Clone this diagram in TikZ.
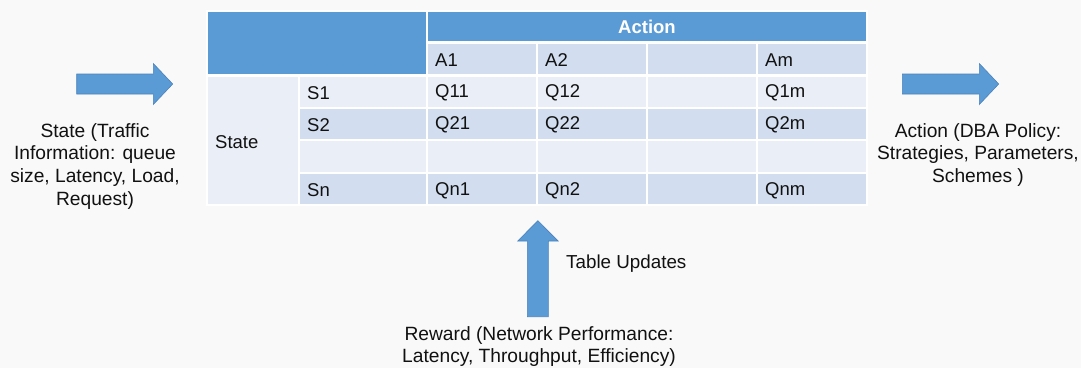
\documentclass[tikz,border=0pt]{standalone}
\usepackage{fontspec}
\setmainfont{Liberation Sans}
\usetikzlibrary{positioning}
\definecolor{hdr}{HTML}{5B9BD5}
\definecolor{bandD}{HTML}{D2DEEF}
\definecolor{bandL}{HTML}{EAEFF7}
\definecolor{arrowline}{HTML}{4A82BC}
\definecolor{pagebg}{HTML}{F9F9F9}
\definecolor{txt}{HTML}{111111}
\tikzset{
  cellbox/.style={draw=white, line width=2.5pt},
  hdrcell/.style={cellbox, fill=hdr},
  darkcell/.style={cellbox, fill=bandD},
  lightcell/.style={cellbox, fill=bandL},
  celltext/.style={anchor=west, inner sep=0pt, text=txt, font=\fontsize{18.5}{22}\selectfont},
  labeltext/.style={align=center, inner sep=0pt, text=txt, font=\fontsize{19.2}{22.7}\selectfont},
  blockarrow/.style={fill=hdr, draw=arrowline, line width=0.6pt, line join=miter}
}
\begin{document}
\begin{tikzpicture}[x=1pt, y=-1pt]
\fill[pagebg] (0,0) rectangle (1081,368);
\useasboundingbox (0,0) rectangle (1081,368);

% header
\draw[hdrcell] (207,11) rectangle (427,75.5);
\draw[hdrcell] (427,11) rectangle (867,42.5);
\node[inner sep=0pt, text=white, font=\fontsize{18.5}{22}\selectfont\bfseries] (action) at (647,27) {Action};

% A row
\foreach \xa/\xb in {427/537, 537/647, 647/757, 757/867}
  \draw[darkcell] (\xa,42.5) rectangle (\xb,75.5);

% state cell
\draw[lightcell] (207,75.5) rectangle (299,205);

% body rows
\foreach \ya/\yb/\st in {75.5/108/lightcell, 108/140/darkcell, 140/173/lightcell, 173/205/darkcell}
  \foreach \xa/\xb in {299/427, 427/537, 537/647, 647/757, 757/867}
    \draw[\st] (\xa,\ya) rectangle (\xb,\yb);

% texts
\node[celltext] (a1) at (435,60) {A1};
\node[celltext] (a2) at (545,60) {A2};
\node[celltext] (am) at (765,60) {Am};
\node[celltext] (state) at (215,142.5) {State};
\node[celltext] (s1) at (307,93) {S1};
\node[celltext] (s2) at (307,125) {S2};
\node[celltext] (sn) at (307,190.5) {Sn};
\node[celltext] (q11) at (435,93) {Q11};
\node[celltext] (q12) at (545,93) {Q12};
\node[celltext] (q1m) at (765,93) {Q1m};
\node[celltext] (q21) at (435,125) {Q21};
\node[celltext] (q22) at (545,125) {Q22};
\node[celltext] (q2m) at (765,125) {Q2m};
\node[celltext] (qn1) at (435,190.5) {Qn1};
\node[celltext] (qn2) at (545,190.5) {Qn2};
\node[celltext] (qnm) at (765,190.5) {Qnm};

% arrows
\draw[blockarrow] (76.7,74) -- (153.3,74) -- (153.3,63.5) -- (172.7,84) -- (153.3,104.5) -- (153.3,94) -- (76.7,94) -- cycle;
\draw[blockarrow] (902.3,74) -- (979.3,74) -- (979.3,63.5) -- (998.7,84) -- (979.3,104.5) -- (979.3,94) -- (902.3,94) -- cycle;
\draw[blockarrow] (527.3,316.7) -- (527.3,241) -- (517.7,241) -- (537.9,220.7) -- (558.1,241) -- (548.3,241) -- (548.3,316.7) -- cycle;

% labels
\node[labeltext] (stlabel) at (95,166.3) {State (Traffic\\Information: queue\\size, Latency, Load,\\Request)};
\node[labeltext] (aclabel) at (978,155) {Action (DBA Policy:\\Strategies, Parameters,\\Schemes )};
\node[celltext, font=\fontsize{18.8}{22}\selectfont] (upd) at (566,263.5) {Table Updates};
\node[labeltext] (reward) at (539,346.5) {Reward (Network Performance:\\Latency, Throughput, Efficiency)};
\end{tikzpicture}
\end{document}
